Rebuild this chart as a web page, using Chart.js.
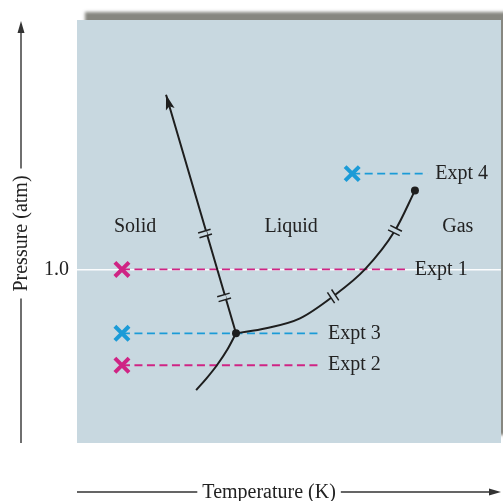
<!DOCTYPE html>
<html>
<head>
<meta charset="utf-8">
<script src="https://cdn.jsdelivr.net/npm/chart.js@4"></script>
<style>
  html, body { margin: 0; padding: 0; background: #fff; }
  canvas { display: block; }
</style>
</head>
<body>
<canvas id="phaseChart" width="503" height="501"></canvas>
<script>
// phase diagram data (temperature in arbitrary units, pressure in atm)
const fusionT = [37.5, 21.0];
const fusionP = [0.632, 2.006];
const sublimT = [37.5, 35.5, 33.0, 30.6, 28.1];
const sublimP = [0.632, 0.540, 0.448, 0.374, 0.305];
const vaporT = [37.5, 44.6, 52.6, 60.4, 67.9, 75.0, 79.7];
const vaporP = [0.632, 0.661, 0.718, 0.845, 1.000, 1.224, 1.454];
const specialT = [37.5, 79.7];   // triple point, critical point
const specialP = [0.632, 1.454];

const exptNames = ['Expt 1', 'Expt 2', 'Expt 3', 'Expt 4'];
const exptStartT = [10.6, 10.6, 10.6, 64.9];
const exptEndT = [77.8, 57.3, 57.3, 82.6];
const exptP = [1.0, 0.448, 0.632, 1.552];

const regionNames = ['Solid', 'Liquid', 'Gas'];
const regionT = [13.7, 50.5, 89.8];
const regionP = [1.247, 1.247, 1.247];

// double hash marks along the curves (curve = dataset index)
const hashT = [30.2, 34.7, 60.4, 75.0];
const hashP = [1.207, 0.839, 0.845, 1.224];
const hashCurve = [0, 0, 2, 2];

const pressureTicks = [1.0];

const FONT = "'Liberation Serif', 'DejaVu Serif', serif";
const PANEL = '#c8d8e0';
const INK = '#1e1e1e';
const MAGENTA = '#cf2484';
const BLUE = '#1b9bd7';
const exptColors = [MAGENTA, MAGENTA, BLUE, BLUE];

function pts(xs, ys) {
    return xs.map((x, i) => ({ x: x, y: ys[i] }));
}

const curveStyle = {
    showLine: true,
    borderColor: INK,
    borderWidth: 2,
    pointRadius: 0,
    cubicInterpolationMode: 'monotone',
    fill: false,
    order: 1
};

const datasets = [
    Object.assign({ label: 'fusion', data: pts(fusionT, fusionP) }, curveStyle),
    Object.assign({ label: 'sublimation', data: pts(sublimT, sublimP) }, curveStyle),
    Object.assign({ label: 'vaporization', data: pts(vaporT, vaporP) }, curveStyle),
    {
        label: 'points',
        data: pts(specialT, specialP),
        showLine: false,
        pointRadius: 4,
        pointBackgroundColor: INK,
        pointBorderWidth: 0,
        order: 0
    }
];

exptNames.forEach((name, i) => {
    datasets.push({
        label: name,
        data: [{ x: exptStartT[i], y: exptP[i] }, { x: exptEndT[i], y: exptP[i] }],
        showLine: true,
        borderColor: exptColors[i],
        borderWidth: 1.8,
        borderDash: [8, 4.5],
        pointStyle: 'crossRot',
        pointRadius: [10, 0],
        pointBorderWidth: 4,
        pointBorderColor: exptColors[i],
        pointBackgroundColor: exptColors[i],
        order: 2
    });
});

const panelPlugin = {
    id: 'panel',
    beforeDraw(chart) {
        const { ctx, chartArea: a } = chart;
        ctx.save();
        ctx.shadowColor = 'rgba(95,95,85,0.75)';
        ctx.shadowOffsetX = 8;
        ctx.shadowOffsetY = -8;
        ctx.shadowBlur = 3;
        ctx.fillStyle = PANEL;
        ctx.fillRect(a.left, a.top, a.right - a.left, a.bottom - a.top);
        ctx.restore();
    }
};

const decorPlugin = {
    id: 'decor',
    afterDatasetsDraw(chart) {
        const { ctx, scales: { x, y } } = chart;
        ctx.save();

        // arrowhead on the fusion line
        const fm = chart.getDatasetMeta(0).data;
        const p1 = fm[fm.length - 2], p2 = fm[fm.length - 1];
        const ang = Math.atan2(p2.y - p1.y, p2.x - p1.x);
        ctx.translate(p2.x, p2.y);
        ctx.rotate(ang);
        ctx.fillStyle = INK;
        ctx.beginPath();
        ctx.moveTo(0, 0);
        ctx.lineTo(-15, -4.5);
        ctx.lineTo(-12, 0);
        ctx.lineTo(-15, 4.5);
        ctx.closePath();
        ctx.fill();
        ctx.setTransform(1, 0, 0, 1, 0, 0);

        // double hash marks
        hashT.forEach((t, i) => {
            const px = x.getPixelForValue(t), py = y.getPixelForValue(hashP[i]);
            const pm = chart.getDatasetMeta(hashCurve[i]).data;
            let best = 0, bestD = Infinity;
            for (let k = 0; k < pm.length - 1; k++) {
                const mx = (pm[k].x + pm[k + 1].x) / 2, my = (pm[k].y + pm[k + 1].y) / 2;
                const d = Math.hypot(mx - px, my - py);
                if (d < bestD) { bestD = d; best = k; }
            }
            let tx = pm[best + 1].x - pm[best].x, ty = pm[best + 1].y - pm[best].y;
            const len = Math.hypot(tx, ty);
            tx /= len; ty /= len;
            const nx = -ty, ny = tx;
            ctx.strokeStyle = PANEL;
            ctx.lineWidth = 4;
            ctx.beginPath();
            ctx.moveTo(px - tx * 2.5, py - ty * 2.5);
            ctx.lineTo(px + tx * 2.5, py + ty * 2.5);
            ctx.stroke();
            ctx.strokeStyle = INK;
            ctx.lineWidth = 1.5;
            [-2.5, 2.5].forEach(o => {
                const cx = px + tx * o, cy = py + ty * o;
                ctx.beginPath();
                ctx.moveTo(cx - nx * 6.5, cy - ny * 6.5);
                ctx.lineTo(cx + nx * 6.5, cy + ny * 6.5);
                ctx.stroke();
            });
        });

        // text labels
        ctx.font = '20px ' + FONT;
        ctx.fillStyle = '#222';
        ctx.textBaseline = 'middle';
        ctx.textAlign = 'left';
        exptNames.forEach((name, i) => {
            ctx.fillText(name, x.getPixelForValue(exptEndT[i]) + 8, y.getPixelForValue(exptP[i]));
        });
        ctx.textAlign = 'center';
        regionNames.forEach((name, i) => {
            ctx.fillText(name, x.getPixelForValue(regionT[i]), y.getPixelForValue(regionP[i]));
        });
        ctx.restore();
    },
    afterDraw(chart) {
        const { ctx, chartArea: a } = chart;
        ctx.save();
        ctx.strokeStyle = '#333';
        ctx.fillStyle = '#333';
        ctx.lineWidth = 1.4;
        ctx.font = '20px ' + FONT;
        ctx.textBaseline = 'middle';
        ctx.textAlign = 'center';

        // y axis arrow with title
        const ax = 21, yc = (a.top + a.bottom) / 2 + 2;
        const yTitle = 'Pressure (atm)';
        const half = ctx.measureText(yTitle).width / 2 + 7;
        ctx.beginPath();
        ctx.moveTo(ax, a.bottom);
        ctx.lineTo(ax, yc + half);
        ctx.moveTo(ax, yc - half);
        ctx.lineTo(ax, a.top + 8);
        ctx.stroke();
        ctx.beginPath();
        ctx.moveTo(ax, a.top + 1);
        ctx.lineTo(ax - 3.5, a.top + 13);
        ctx.lineTo(ax + 3.5, a.top + 13);
        ctx.closePath();
        ctx.fill();
        ctx.save();
        ctx.translate(ax, yc);
        ctx.rotate(-Math.PI / 2);
        ctx.fillStyle = '#222';
        ctx.fillText(yTitle, 0, 1);
        ctx.restore();

        // x axis arrow with title
        const ay = 492, xc = a.left + (a.right - a.left) * 0.453;
        const xTitle = 'Temperature (K)';
        const halfX = ctx.measureText(xTitle).width / 2 + 5;
        ctx.beginPath();
        ctx.moveTo(a.left, ay);
        ctx.lineTo(xc - halfX, ay);
        ctx.moveTo(xc + halfX, ay);
        ctx.lineTo(a.right - 8, ay);
        ctx.stroke();
        ctx.beginPath();
        ctx.moveTo(a.right, ay);
        ctx.lineTo(a.right - 12, ay - 3.5);
        ctx.lineTo(a.right - 12, ay + 3.5);
        ctx.closePath();
        ctx.fill();
        ctx.fillStyle = '#222';
        ctx.fillText(xTitle, xc, ay + 1);
        ctx.restore();
    }
};

new Chart(document.getElementById('phaseChart').getContext('2d'), {
    type: 'scatter',
    data: { datasets: datasets },
    options: {
        responsive: false,
        animation: false,
        layout: {
            autoPadding: false,
            padding: { top: 19, right: 2, bottom: 58, left: 0 }
        },
        plugins: {
            legend: { display: false },
            tooltip: { enabled: false }
        },
        scales: {
            x: { type: 'linear', min: 0, max: 100, display: false },
            y: {
                type: 'linear',
                min: 0,
                max: 2.437,
                afterBuildTicks: function(scale) {
                    scale.ticks = pressureTicks.map(v => ({ value: v }));
                },
                afterFit: function(scale) {
                    scale.width = 77;
                },
                grid: { color: 'rgba(255,255,255,0.95)', lineWidth: 1.5, drawTicks: false },
                border: { display: false },
                ticks: {
                    padding: 8,
                    color: '#222',
                    font: { family: FONT, size: 20 },
                    callback: function(value) { return value.toFixed(1); }
                }
            }
        }
    },
    plugins: [panelPlugin, decorPlugin]
});
</script>
</body>
</html>
